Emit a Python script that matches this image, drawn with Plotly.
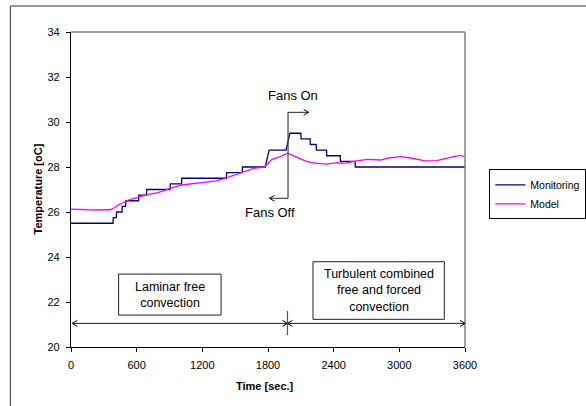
import plotly.graph_objects as go

# ---- data ----
mon_time = [0, 384, 386, 414, 416, 466, 468, 499, 501, 618, 620, 690, 692, 905, 907,
            1010, 1012, 1420, 1422, 1565, 1567, 1775, 1810, 1965, 2000, 2100, 2102,
            2185, 2187, 2240, 2242, 2335, 2337, 2460, 2462, 2596, 2598, 3600]
mon_temp = [25.5, 25.5, 25.75, 25.75, 26.0, 26.0, 26.25, 26.25, 26.5, 26.5, 26.75, 26.75,
            27.0, 27.0, 27.25, 27.25, 27.5, 27.5, 27.75, 27.75, 28.0, 28.0, 28.75, 28.75,
            29.5, 29.5, 29.25, 29.25, 29.0, 29.0, 28.75, 28.75, 28.5, 28.5, 28.25, 28.25,
            28.0, 28.0]

model_time = [0, 40, 85, 150, 268, 356, 400, 432, 470, 508, 560, 615, 706, 798, 905, 1011,
              1163, 1255, 1330, 1410, 1480, 1547, 1610, 1669, 1769, 1837, 1913, 1979,
              2065, 2156, 2248, 2339, 2430, 2491, 2613, 2705, 2826, 2902, 3009, 3100,
              3237, 3344, 3436, 3551, 3600]
model_temp = [26.13, 26.12, 26.09, 26.1, 26.09, 26.1, 26.2, 26.31, 26.4, 26.5, 26.58, 26.65,
              26.78, 26.86, 27.05, 27.2, 27.3, 27.33, 27.38, 27.5, 27.62, 27.76, 27.85,
              27.94, 28.01, 28.34, 28.46, 28.61, 28.43, 28.24, 28.16, 28.13, 28.19, 28.16,
              28.27, 28.34, 28.31, 28.4, 28.46, 28.4, 28.27, 28.28, 28.39, 28.52, 28.46]

x_ticks = [0, 600, 1200, 1800, 2400, 3000, 3600]
y_ticks = [20, 22, 24, 26, 28, 30, 32, 34]

FONT = "Liberation Sans, Arial, sans-serif"

fig = go.Figure()
fig.add_trace(go.Scatter(x=mon_time, y=mon_temp, mode="lines", name="Monitoring",
                         line=dict(color="#000080", width=1.3)))
fig.add_trace(go.Scatter(x=model_time, y=model_temp, mode="lines", name="Model",
                         line=dict(color="#FF00FF", width=1.3)))

# pixel -> data unit helpers for small decorations
DX = 3600 / 394.0
DY = 14 / 315.0


def chevron(x, y, direction, color="#000000"):
    s = -1 if direction == "right" else 1
    x1 = x + s * 5 * DX
    return dict(type="path", xref="x", yref="y",
                path=f"M {x1},{y + 3 * DY} L {x},{y} L {x1},{y - 3 * DY}",
                line=dict(color=color, width=1))


def seg(x0, y0, x1, y1, color="#333333", width=1):
    return dict(type="line", xref="x", yref="y", x0=x0, y0=y0, x1=x1, y1=y1,
                line=dict(color=color, width=width))


shapes = []
# plot area border (top and right, gray)
shapes.append(dict(type="line", xref="paper", yref="paper", x0=0, y0=1, x1=1, y1=1,
                   line=dict(color="#808080", width=1.5)))
shapes.append(dict(type="line", xref="paper", yref="paper", x0=1, y0=0, x1=1, y1=1,
                   line=dict(color="#808080", width=1.5)))
# outer chart frame (top and left visible)
shapes.append(dict(type="rect", xref="paper", yref="paper", x0=-0.154, y0=-0.5,
                   x1=1.6, y1=1.0825, line=dict(color="#333333", width=1)))

# Fans On / Fans Off indicator
t_fan = 1983
shapes.append(seg(t_fan, 26.61, t_fan, 30.43, color="#444444", width=1.2))
shapes.append(seg(t_fan, 30.43, 2171, 30.43, color="#222222"))
shapes.append(chevron(2171, 30.43, "right"))
shapes.append(seg(t_fan, 26.61, 1815, 26.61, color="#222222"))
shapes.append(chevron(1815, 26.61, "left"))

# regime double arrows
y_reg = 21.05
shapes.append(seg(12, y_reg, 3600, y_reg, color="#222222"))
shapes.append(chevron(12, y_reg, "left"))
shapes.append(chevron(1978, y_reg, "right"))
shapes.append(chevron(1978, y_reg, "left"))
shapes.append(chevron(3600, y_reg, "right"))
shapes.append(seg(1978, 20.53, 1978, 21.6, color="#555555", width=1.2))

# text boxes
shapes.append(dict(type="rect", xref="x", yref="y", x0=435, x1=1371, y0=21.42, y1=23.24,
                   line=dict(color="#222222", width=1), fillcolor="white"))
shapes.append(dict(type="rect", xref="x", yref="y", x0=2211, x1=3411, y0=21.23, y1=23.79,
                   line=dict(color="#222222", width=1), fillcolor="white"))

annotations = [
    dict(x=2031, y=31.16, xref="x", yref="y", text="Fans On", showarrow=False,
         font=dict(size=13, color="#000")),
    dict(x=1821, y=25.96, xref="x", yref="y", text="Fans Off", showarrow=False,
         font=dict(size=13, color="#000")),
    dict(x=903, y=22.33, xref="x", yref="y", text="Laminar free<br>convection",
         showarrow=False, font=dict(size=12.5, color="#000")),
    dict(x=2811, y=22.51, xref="x", yref="y",
         text="Turbulent combined<br>free and forced<br>convection",
         showarrow=False, font=dict(size=12.5, color="#000")),
    dict(x=(265 - 71) / 394, y=(347 - 386) / 315, xref="paper", yref="paper",
         xanchor="center", yanchor="middle",
         text="<b>Time [sec.]</b>", showarrow=False, font=dict(size=11, color="#000")),
    dict(x=(37 - 71) / 394, y=0.5, xref="paper", yref="paper", textangle=-90,
         xanchor="center", yanchor="middle",
         text="<b>Temperature [oC]</b>", showarrow=False, font=dict(size=11, color="#000")),
]

fig.update_layout(
    width=586, height=406,
    margin=dict(l=71, r=121, t=32, b=59, pad=0, autoexpand=False),
    paper_bgcolor="white", plot_bgcolor="white",
    font=dict(family=FONT, size=11, color="#000"),
    showlegend=True,
    legend=dict(x=(489.3 - 71) / 394, y=(347 - 169.3) / 315, xanchor="left", yanchor="top",
                bordercolor="#000000", borderwidth=1, bgcolor="white",
                font=dict(size=10.5, color="#000"), tracegroupgap=0, itemwidth=30),
    shapes=shapes,
    annotations=annotations,
    hovermode=False,
)
fig.update_xaxes(range=[0, 3600], tickvals=x_ticks, ticktext=[str(v) for v in x_ticks],
                 showgrid=False, zeroline=False, showline=True, linecolor="#000",
                 linewidth=1.2, ticks="outside", ticklen=4, tickcolor="#000",
                 ticklabelstandoff=4, tickfont=dict(size=11))
fig.update_yaxes(range=[20, 34], tickvals=y_ticks, ticktext=[str(v) for v in y_ticks],
                 showgrid=False, zeroline=False, showline=True, linecolor="#000",
                 linewidth=1.2, ticks="outside", ticklen=4, tickcolor="#000",
                 ticklabelstandoff=4, tickfont=dict(size=11))

fig.write_html("out.html", config={"displayModeBar": False},
               post_script="document.body.style.margin='0px';document.body.style.overflow='hidden';")
